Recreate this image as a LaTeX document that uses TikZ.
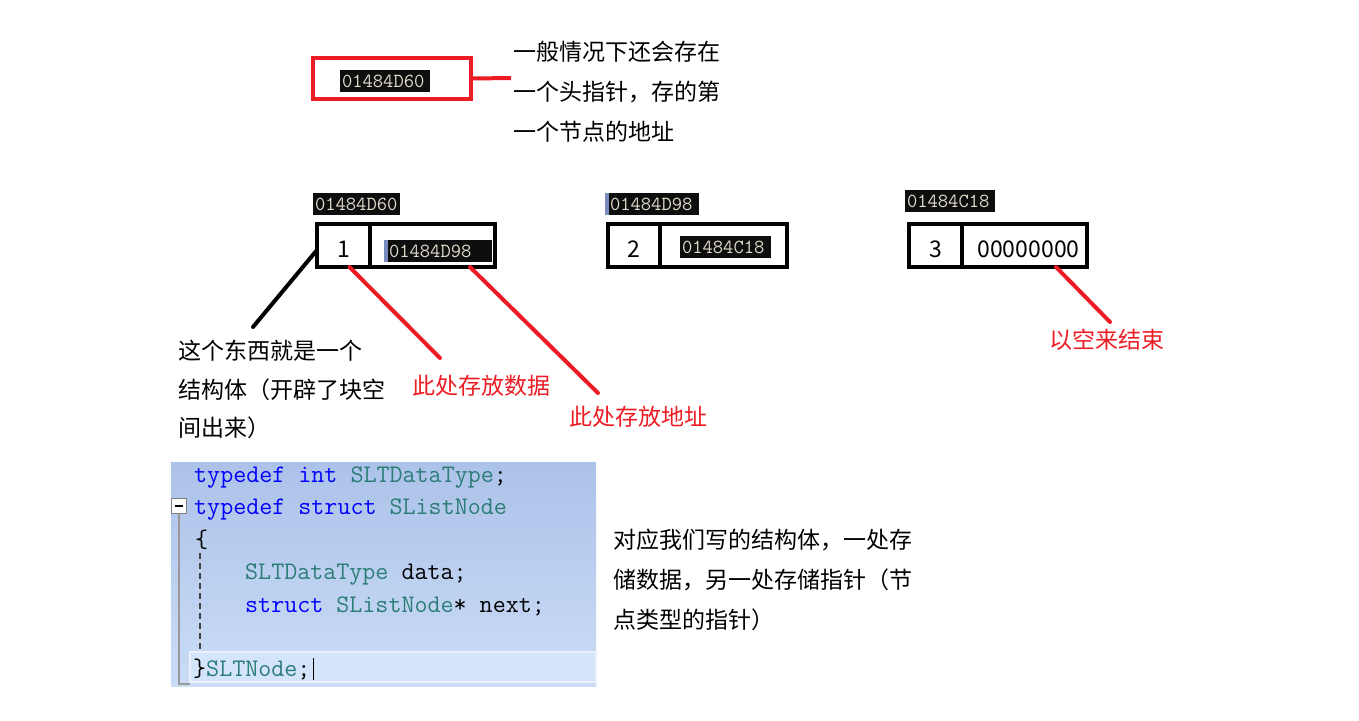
\documentclass[tikz,border=0pt]{standalone}
\usepackage{fontspec}
\setmainfont{Noto Sans CJK SC}
\usetikzlibrary{positioning}
\definecolor{markred}{RGB}{237,28,36}
\definecolor{hexbg}{RGB}{14,14,14}
\definecolor{hexfg}{RGB}{226,220,204}
\definecolor{selbar}{RGB}{120,140,190}
\definecolor{kwblue}{RGB}{0,0,255}
\definecolor{typeteal}{RGB}{43,125,118}
\definecolor{codetop}{RGB}{172,194,233}
\definecolor{codebot}{RGB}{202,220,246}
\definecolor{curline}{RGB}{212,228,250}
\begin{document}
\begin{tikzpicture}[x=1pt, y=-1pt, >=stealth,
    every node/.style={font=\fontsize{23}{40}\selectfont},
    cell/.style={draw, line width=4pt, outer sep=0pt, minimum height=43pt, inner sep=0pt, text height=24pt, text depth=0pt},
    hexlab/.style={fill=hexbg, text=hexfg, font=\ttfamily\fontsize{20}{20}\selectfont, inner xsep=2pt, inner ysep=2pt, align=left, text width=#1, minimum height=22pt},
    hexlab/.default=84pt,
    selmark/.style={path picture={\fill[selbar] (path picture bounding box.south west) rectangle ([xshift=4pt]path picture bounding box.north west);}},
    redline/.style={draw=markred, line width=4pt, line cap=round},
    note/.style={align=left, anchor=north west, inner sep=0pt},
    rednote/.style={text=markred},
    code/.style={anchor=west, inner sep=0pt, font=\ttfamily\fontsize{25.3}{25.3}\selectfont}]
    \useasboundingbox (0,0) rectangle (1359,720);
    % head pointer
    \node[draw=markred, line width=4pt, minimum width=158pt, minimum height=41pt] (head) at (392,78.5) {};
    \node[hexlab=86pt] (headaddr) at (385,81) {01484D60};
    \coordinate (headend) at (511,78);
    \draw[draw=markred, line width=4pt] (head.east) -- (headend);
    \node[note] (headnote) at (513,41) {一般情况下还会存在\\一个头指针，存的第\\一个节点的地址};
    % list nodes
    \node[cell, minimum width=53pt, anchor=north west] (d1) at (317,224) {1};
    \node[cell, minimum width=125pt, right=0pt of d1] (p1) {};
    \node[hexlab=104pt, selmark] (a1) at ([xshift=5.5pt,yshift=-5.5pt]p1.center) {\hspace*{3pt}01484D98};
    \node[hexlab=83pt] (h1) at (356.5,204) {01484D60};
    \node[cell, minimum width=52pt, anchor=north west] (d2) at (608,224) {2};
    \node[cell, minimum width=127pt, right=0pt of d2] (p2) {};
    \node[hexlab=87pt] (a2) at ([xshift=2pt,yshift=-1.5pt]p2.center) {01484C18};
    \node[hexlab=90pt, selmark] (h2) at (652,204) {\hspace*{3pt}01484D98};
    \node[cell, minimum width=53pt, anchor=north west] (d3) at (909,224) {3};
    \node[cell, minimum width=125pt, right=0pt of d3] (p3) {\hspace*{8pt}00000000};
    \node[hexlab=86pt] (h3) at (950,201) {01484C18};
    % notes and connectors
    \node[note, font=\fontsize{23}{38.5}\selectfont] (structnote) at (178,340) {这个东西就是一个\\结构体（开辟了块空\\间出来）};
    \node[rednote] (datanote) at (481,386) {此处存放数据};
    \node[rednote] (addrnote) at (638,417) {此处存放地址};
    \node[rednote] (endnote) at (1107,340) {以空来结束};
    \coordinate (structend) at (253,327);
    \coordinate (dataend) at (440,358);
    \coordinate (addrend) at (598,393);
    \coordinate (nullend) at (1110,322);
    \draw[line width=4pt, line cap=round] ([yshift=-4.5pt]d1.west) -- (structend);
    \draw[redline] ([xshift=6pt]d1.south) -- (dataend);
    \draw[redline] ([xshift=-25pt]p1.south east) -- (addrend);
    \draw[redline] ([xshift=-31pt]p3.south east) -- (nullend);
    % code snippet
    \fill[top color=codetop, bottom color=codebot] (171,462) rectangle (596,686);
    \draw[draw=white!60!codebot, fill=curline, line width=1.5pt] (190,652) rectangle (596,682);
    \node[draw=gray, fill=white, line width=1.2pt, minimum size=15pt, inner sep=0pt] (fold) at (179,506) {};
    \draw[line width=1.5pt] ([xshift=-4pt]fold.center) -- ([xshift=4pt]fold.center);
    \draw[gray!80, line width=2pt] (fold.south) -- (179,684) -- (190,684);
    \draw[gray!50!black, line width=1.5pt, dash pattern=on 6pt off 4pt] (200,553) -- (200,650);
    \node[code] (c1) at (194,477) {\textcolor{kwblue}{typedef int} \textcolor{typeteal}{SLTDataType};};
    \node[code] (c2) at (194,509) {\textcolor{kwblue}{typedef struct} \textcolor{typeteal}{SListNode}};
    \node[code] (c3) at (195,540) {\{};
    \node[code] (c4) at (245,574) {\textcolor{typeteal}{SLTDataType} data;};
    \node[code] (c5) at (245,606) {\textcolor{kwblue}{struct} \textcolor{typeteal}{SListNode}* next;};
    \node[code] (c6) at (193,669) {\}\textcolor{typeteal}{SLTNode};};
    \draw[line width=1.5pt] ([xshift=3pt]c6.north east) -- ([xshift=3pt]c6.south east);
    \node[note] (codenote) at (613,529) {对应我们写的结构体，一处存\\储数据，另一处存储指针（节\\点类型的指针）};
\end{tikzpicture}
\end{document}
